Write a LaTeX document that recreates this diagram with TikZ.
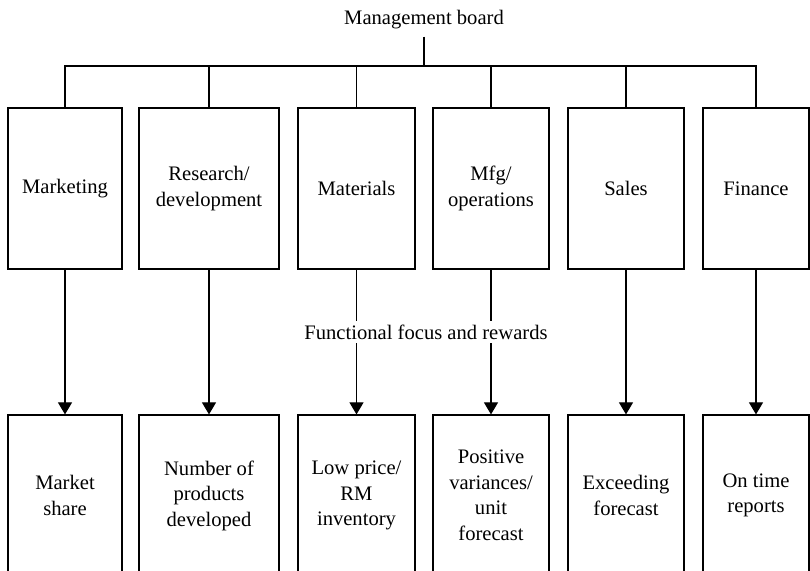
\documentclass[tikz,border=0pt]{standalone}
\usepackage{fontspec}
\setmainfont{Liberation Serif}
\newfontfamily\boardfont{Liberation Serif}
\usetikzlibrary{arrows.meta, positioning}

\tikzset{
  unitbox/.style={draw, align=center, inner sep=0pt, minimum height=80.5pt},
  goalbox/.style={unitbox},
  link/.style={line width=0.6pt},
  reward/.style={link, -{Triangle[length=6pt, width=7pt]}}
}

\begin{document}
\begin{tikzpicture}[x=0.5pt, y=-0.5pt, line width=0.6pt,
    font=\boardfont\fontsize{10.3}{12.75}\selectfont]
                    \useasboundingbox (0,0) rectangle (810,571);
                    \clip (0,0) rectangle (810,571);
                    % Board and bus
                    \node (board) at (424,20) {Management board};
                    \coordinate (hub) at (424,66);
                    % Functions
                    \node[unitbox, minimum width=57pt] (mkt) at (65,188.5) {Marketing};
                    \node[unitbox, minimum width=70pt] (rd) at (209,188.5) {Research/\\development};
                    \node[unitbox, minimum width=58.5pt] (mat) at (356.5,188.5) {Materials};
                    \node[unitbox, minimum width=58pt] (mfg) at (491,188.5) {Mfg/\\operations};
                    \node[unitbox, minimum width=58pt] (sal) at (626,188.5) {Sales};
                    \node[unitbox, minimum width=53pt] (fin) at (756,188.5) {Finance};
                    % Measures
                    \node[goalbox, minimum width=57pt] (mktr) at (65,495.5) {Market\\share};
                    \node[goalbox, minimum width=70pt] (rdr) at (209,495.5) {Number of\\products\\developed};
                    \node[goalbox, minimum width=58.5pt] (matr) at (356.5,495.5) {Low price/\\RM\\inventory};
                    \node[goalbox, minimum width=58pt] (mfgr) at (491,495.5) {Positive\\variances/\\unit\\forecast};
                    \node[goalbox, minimum width=58pt] (salr) at (626,495.5) {Exceeding\\forecast};
                    \node[goalbox, minimum width=53pt] (finr) at (756,495.5) {On time\\reports};
                    % Tree lines
                    \draw[link] (board.south) -- (hub);
                    \draw[link] (mkt.north) -- (mkt.north |- hub) -- (fin.north |- hub) -- (fin.north);
                    \foreach \n in {rd,mat,mfg,sal}
                      \draw[link] (\n.north) -- (\n.north |- hub);
                    % Arrows
                    \foreach \n in {mkt,rd,mat,mfg,sal,fin}
                      \draw[reward] (\n.south) -- (\n r.north);
                    \node[fill=white, inner sep=2pt] (focus) at (426,332) {Functional focus and rewards};
                \end{tikzpicture}
\end{document}
